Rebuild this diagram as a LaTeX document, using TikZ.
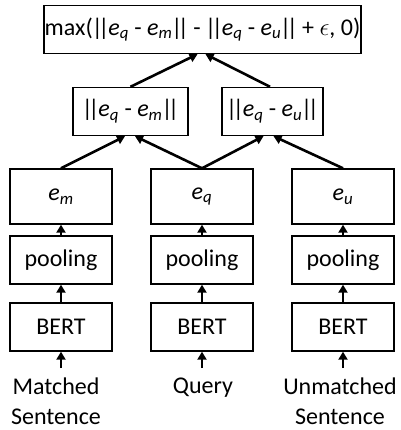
\documentclass[tikz,border=0pt]{standalone}
\usepackage{fontspec}
\setmainfont{Carlito}
\usetikzlibrary{arrows.meta}
\newcommand{\emb}[1]{\textit{e}\textsubscript{\textit{#1}}}
\newcommand{\nrm}{\kern-1pt|\kern-4.5pt|\kern-1pt}

\begin{document}
\begin{tikzpicture}[x=1pt,y=-1pt,
  box/.style={draw,line width=1.4pt,minimum width=102pt,minimum height=48pt,
    inner sep=0pt,font=\fontsize{24}{28}\selectfont},
  embbox/.style={box,minimum height=55pt},
  sentence/.style={align=center,inner xsep=0pt,inner ysep=10pt,
    font=\fontsize{24}{30}\selectfont},
  flow/.style={line width=2.6pt,-{Triangle[length=8pt,width=9pt]}}]
\useasboundingbox (0,0) rectangle (400,430);
% loss and distances
\node[box,minimum width=317pt] (loss) at (202.5,29.5)
  {max(\nrm\emb{q} - \emb{m}\nrm{} - \nrm\emb{q} - \emb{u}\nrm{} + $\epsilon$, 0)};
\node[box,minimum width=115pt] (dm) at (130.5,111.5) {\nrm\emb{q} - \emb{m}\nrm};
\node[box,minimum width=101pt] (du) at (272.5,111.5) {\nrm\emb{q} - \emb{u}\nrm};
% embeddings
\node[embbox] (em) at (61,196.5) {\emb{m}};
\node[embbox] (eq) at (202,196.5) {\emb{q}};
\node[embbox] (eu) at (343,196.5) {\emb{u}};
% pooling
\node[box] (pm) at (61,260) {pooling};
\node[box] (pq) at (202,260) {pooling};
\node[box] (pu) at (343,260) {pooling};
% encoders
\node[box] (bm) at (61,327) {BERT};
\node[box] (bq) at (202,327) {BERT};
\node[box] (bu) at (343,327) {BERT};
% inputs
\node[sentence,anchor=north] (sm) at (56,368) {Matched\\Sentence};
\node[sentence,anchor=north] (sq) at (203,368) {Query};
\node[sentence,anchor=north] (su) at (340,368) {Unmatched\\Sentence};

\draw[flow] (bm.south |- sm.north) -- (bm.south);
\draw[flow] (bq.south |- sq.north) -- (bq.south);
\draw[flow] (bu.south |- su.north) -- (bu.south);
\draw[flow] (bm) -- (pm);
\draw[flow] (bq) -- (pq);
\draw[flow] (bu) -- (pu);
\draw[flow] (pm) -- (em);
\draw[flow] (pq) -- (eq);
\draw[flow] (pu) -- (eu);
\draw[flow] (em.north) -- ([xshift=-5.5pt]dm.south);
\draw[flow] (eq.north) -- ([xshift=4.5pt]dm.south);
\draw[flow] (eq.north) -- ([xshift=-9pt]du.south);
\draw[flow] (eu.north) -- ([xshift=1pt]du.south);
\draw[flow] (dm.north) -- ([xshift=-5pt]loss.south);
\draw[flow] ([xshift=-2.5pt]du.north) -- ([xshift=3pt]loss.south);
\end{tikzpicture}
\end{document}
